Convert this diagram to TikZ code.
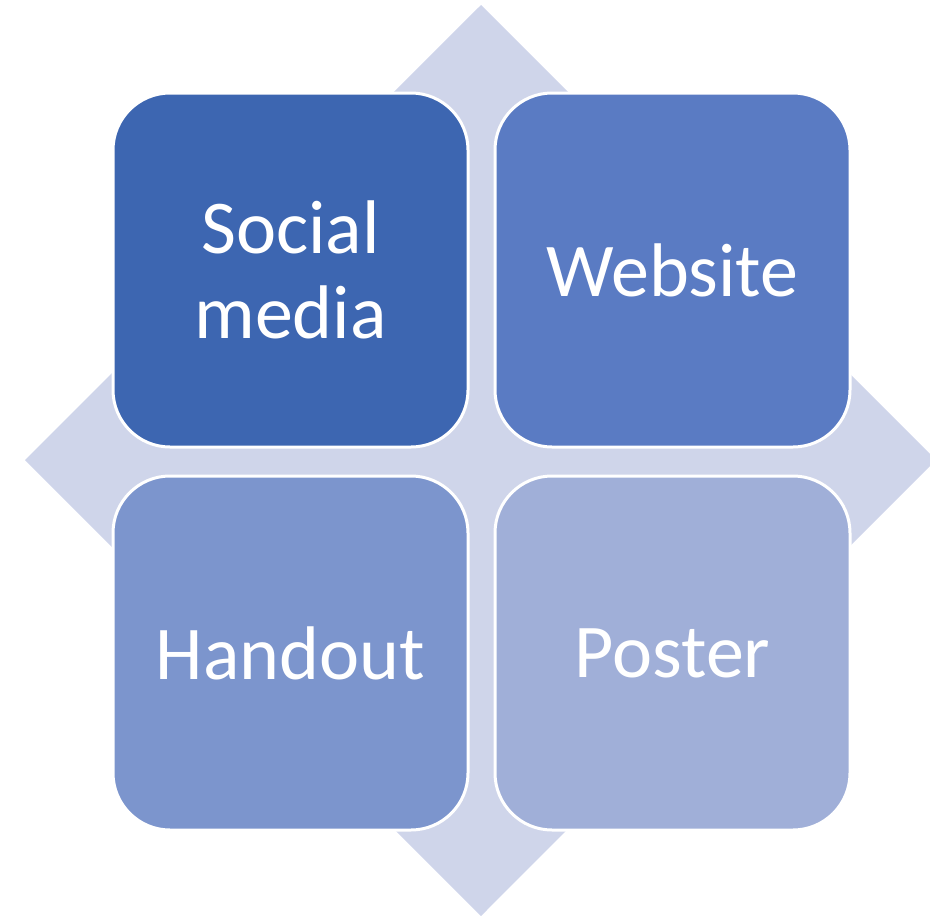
\documentclass[tikz,border=0pt]{standalone}
\usepackage{fontspec}
\setmainfont{Carlito}
\usetikzlibrary{positioning}

\definecolor{backblue}{HTML}{CFD5EA}
\definecolor{socialblue}{HTML}{3D66B1}
\definecolor{webblue}{HTML}{5A7BC3}
\definecolor{handblue}{HTML}{7C95CD}
\definecolor{posterblue}{HTML}{A0AFD8}

\begin{document}
\begin{tikzpicture}[x=1pt, y=-1pt, font=\fontsize{76}{85}\selectfont]
    \useasboundingbox (0,0) rectangle (930,916);
    \tikzset{tile/.style={draw=white, line width=3pt, rounded corners=57pt, minimum width=355pt, minimum height=354pt, text=white, align=center, inner sep=0pt}}

    \fill[backblue] (481,5) -- (936,460) -- (481,916) -- (25,460) -- cycle;

    \node[tile, fill=socialblue] at (290.5, 270) (socialmedia) {Social\\media};
    \node[tile, fill=webblue, right=24pt of socialmedia] (website) {Website};
    \node[tile, fill=handblue, below=26pt of socialmedia] (handout) {Handout};
    \node[tile, fill=posterblue, right=24pt of handout] (poster) {Poster};

\end{tikzpicture}
\end{document}
